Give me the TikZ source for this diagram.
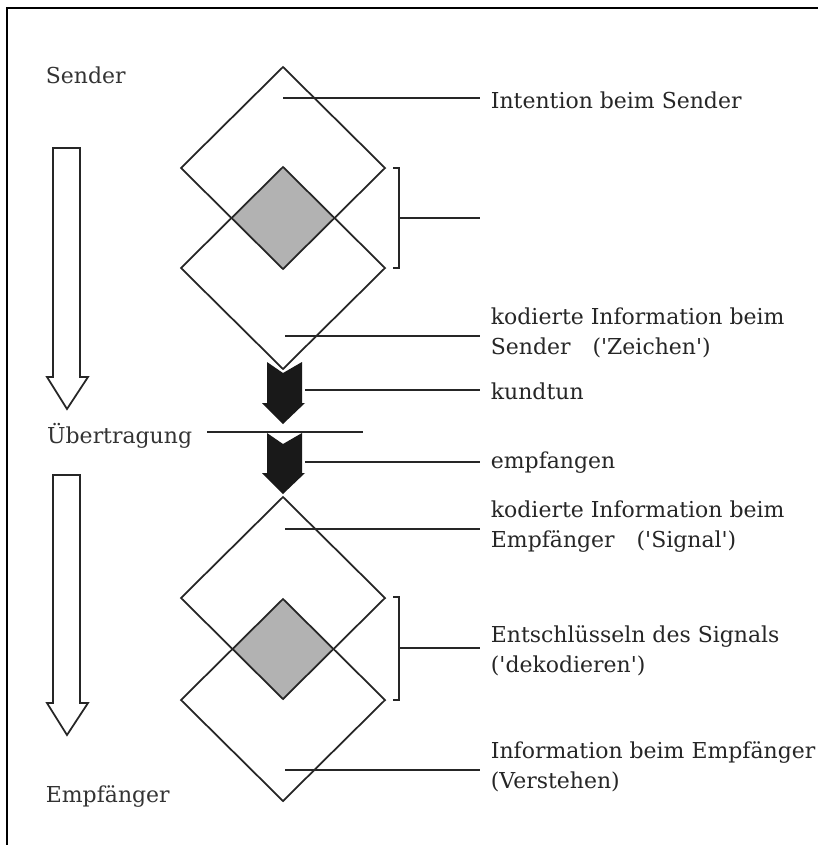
\documentclass[tikz,border=0pt]{standalone}
\usepackage{fontspec}
\setmainfont{DejaVu Serif}
\usetikzlibrary{positioning}

\begin{document}
\begin{tikzpicture}[x=0.02cm,y=-0.02cm,line width=1pt,draw=black!85,
		raute/.style={draw=black!85,line width=1pt},
		kern/.style={fill=black!30},
		lbl/.style={anchor=west,inner xsep=5.7pt,inner ysep=0pt,align=left,text=black!85,font=\fontsize{12.5}{17}\selectfont},
		side/.style={anchor=west,inner sep=0pt,text=black!80,font=\fontsize{12.5}{17}\selectfont}]
	\useasboundingbox (0,0) rectangle (818,845);
	\draw[line width=1.5pt,black] (7,845) -- (7,8) -- (818,8);

	% linke Seite
	\node[side] (sender) at (45,75) {Sender};
	\node[side,inner xsep=8pt,anchor=east] (ueber) at (207,436) {Übertragung};
	\node[side] (empf) at (45,797) {Empfänger};
	\foreach \t/\b in {148/377,475/703}
	{
		\draw (53,\t) -- (80,\t) -- (80,\b) -- (88,\b) -- (67,{\b+32}) -- (47,\b) -- (53,\b) -- cycle;
	}
	\coordinate (uend) at (363,432);
	\draw (uend -| ueber.east) -- (uend);

	% Rauten
	\foreach \cy in {218,649}
	{
		\fill[kern] (283,\cy) +(0,-50) -- +(51,0) -- +(0,50) -- +(-51,0) -- cycle;
	}
	\foreach \cy in {168,268,598,700}
	{
		\draw[raute] (283,\cy) +(0,-101) -- +(102,0) -- +(0,101) -- +(-102,0) -- cycle;
	}

	% schwarze Pfeile
	\foreach \t/\h in {362/403,433/473}
	{
		\fill[black!90] (267,\t) -- (283,{\t+11}) -- (302,\t) -- (302,\h) -- (305,\h) -- (283,{\h+21}) -- (262,\h) -- (267,\h) -- cycle;
	}

	% Klammern
	\foreach \a/\b in {168/268,597/700}
	{
		\draw (393,\a) -- (399,\a) -- (399,\b) -- (393,\b);
	}

	% Beschriftungen rechts
	\coordinate (intent) at (283,98);
	\node[lbl] (intentlbl) at (480,100) {Intention beim Sender};
	\draw (intent) -- (intent -| intentlbl.west);

	\coordinate (klammerA) at (399,218);
	\coordinate (klammerAend) at (480,218);
	\draw (klammerA) -- (klammerAend);

	\coordinate (zeichen) at (285,336);
	\node[lbl] (zeichenlbl) at (480,333) {kodierte Information beim\\Sender\quad(\textquotesingle Zeichen\textquotesingle)};
	\draw (zeichen) -- (zeichen -| zeichenlbl.west);

	\coordinate (kund) at (305,390);
	\node[lbl] (kundlbl) at (480,391) {kundtun};
	\draw (kund) -- (kund -| kundlbl.west);

	\coordinate (empfang) at (305,462);
	\node[lbl] (empfanglbl) at (480,463) {empfangen};
	\draw (empfang) -- (empfang -| empfanglbl.west);

	\coordinate (signal) at (285,529);
	\node[lbl] (signallbl) at (480,527) {kodierte Information beim\\Empfänger\quad(\textquotesingle Signal\textquotesingle)};
	\draw (signal) -- (signal -| signallbl.west);

	\coordinate (klammerB) at (399,648);
	\node[lbl] (dekodlbl) at (480,651) {Entschlüsseln des Signals\\(\textquotesingle dekodieren\textquotesingle)};
	\draw (klammerB) -- (klammerB -| dekodlbl.west);

	\coordinate (verst) at (285,770);
	\node[lbl] (verstlbl) at (480,767) {Information beim Empfänger\\(Verstehen)};
	\draw (verst) -- (verst -| verstlbl.west);
\end{tikzpicture}
\end{document}
